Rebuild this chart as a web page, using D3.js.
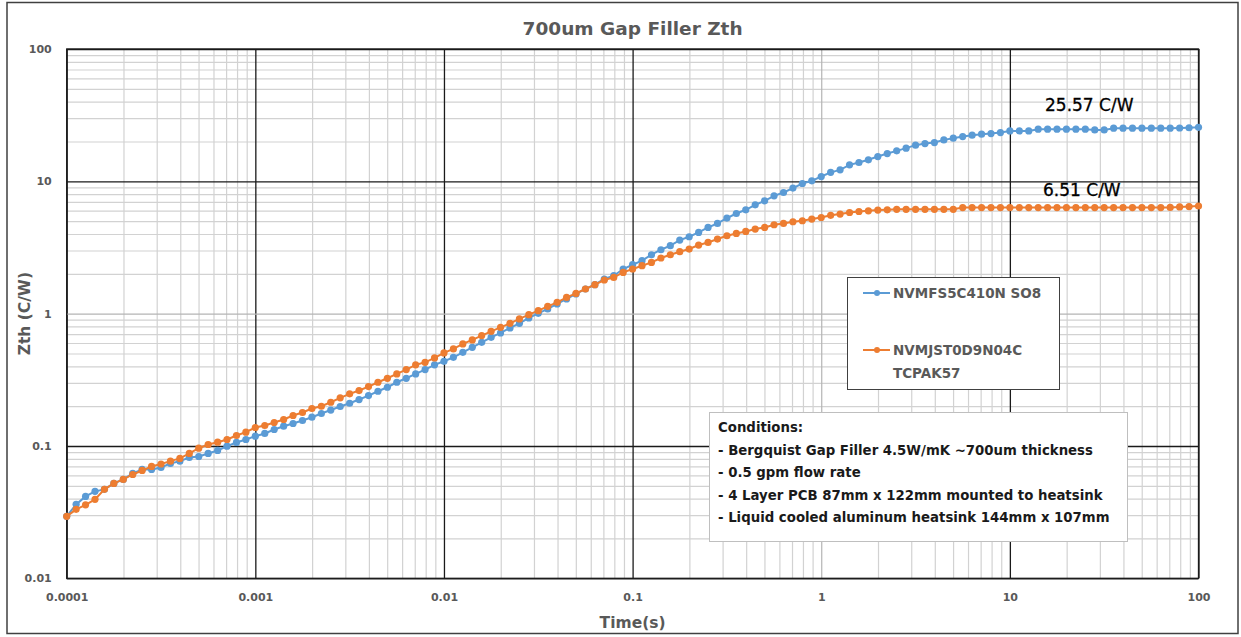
<!DOCTYPE html>
<html>
<head>
<meta charset="utf-8">
<script src="https://cdnjs.cloudflare.com/ajax/libs/d3/7.8.5/d3.min.js"></script>
<style>
  body { margin:0; background:#fff; }
  svg { display:block; }
  text { font-family:"DejaVu Sans", sans-serif; }
</style>
</head>
<body>
<svg></svg>
<script>
// sample times (s), 20 per decade
var time = [
  1e-4,1.122e-4,1.259e-4,1.413e-4,1.585e-4,1.778e-4,1.995e-4,2.239e-4,2.512e-4,2.818e-4,
  3.162e-4,3.548e-4,3.981e-4,4.467e-4,5.012e-4,5.623e-4,6.31e-4,7.079e-4,7.943e-4,8.913e-4,
  1e-3,1.122e-3,1.259e-3,1.413e-3,1.585e-3,1.778e-3,1.995e-3,2.239e-3,2.512e-3,2.818e-3,
  3.162e-3,3.548e-3,3.981e-3,4.467e-3,5.012e-3,5.623e-3,6.31e-3,7.079e-3,7.943e-3,8.913e-3,
  1e-2,1.122e-2,1.259e-2,1.413e-2,1.585e-2,1.778e-2,1.995e-2,2.239e-2,2.512e-2,2.818e-2,
  3.162e-2,3.548e-2,3.981e-2,4.467e-2,5.012e-2,5.623e-2,6.31e-2,7.079e-2,7.943e-2,8.913e-2,
  0.1,0.1122,0.1259,0.1413,0.1585,0.1778,0.1995,0.2239,0.2512,0.2818,
  0.3162,0.3548,0.3981,0.4467,0.5012,0.5623,0.631,0.7079,0.7943,0.8913,
  1,1.122,1.259,1.413,1.585,1.778,1.995,2.239,2.512,2.818,
  3.162,3.548,3.981,4.467,5.012,5.623,6.31,7.079,7.943,8.913,
  10,11.22,12.59,14.13,15.85,17.78,19.95,22.39,25.12,28.18,
  31.62,35.48,39.81,44.67,50.12,56.23,63.1,70.79,79.43,89.13,
  100
];

// NVMFS5C410N SO8
var zthSO8 = [
  0.0294,0.0362,0.0416,0.0454,0.0470,0.0521,0.0559,0.0620,0.0665,0.0665,
  0.0688,0.0738,0.0768,0.0819,0.0833,0.0878,0.0925,0.0997,0.1063,0.1119,
  0.1186,0.1243,0.1332,0.1411,0.1478,0.1558,0.1650,0.1759,0.1869,0.1987,
  0.2104,0.2244,0.2404,0.2592,0.2779,0.3031,0.3248,0.3506,0.3779,0.4101,
  0.4365,0.4679,0.5105,0.5568,0.6072,0.6623,0.7151,0.7800,0.8449,0.9280,
  1.005,1.085,1.184,1.291,1.408,1.536,1.655,1.828,1.935,2.175,
  2.343,2.512,2.788,3.041,3.262,3.599,3.812,4.108,4.481,4.803,
  5.277,5.715,6.095,6.646,7.124,7.774,8.235,8.887,9.626,10.09,
  10.87,11.69,12.21,13.32,13.87,14.54,15.39,16.21,16.99,17.81,
  18.76,19.29,19.63,20.57,21.18,21.78,22.32,22.71,22.95,23.35,
  24.05,24.05,24.05,24.77,24.77,24.77,24.77,24.77,24.77,24.47,
  24.47,25.2,25.2,25.2,25.2,25.2,25.2,25.2,25.3,25.4,
  25.57
];

// NVMJST0D9N04C TCPAK57
var zthTCPAK = [
  0.0294,0.0332,0.0359,0.0395,0.0470,0.0521,0.0559,0.0609,0.0653,0.0700,
  0.0731,0.0768,0.0805,0.0878,0.0962,0.1026,0.1068,0.1119,0.1200,0.1271,
  0.1379,0.1428,0.1505,0.1585,0.1699,0.1790,0.1919,0.1997,0.2141,0.2311,
  0.2477,0.2624,0.2812,0.3031,0.3248,0.3506,0.3779,0.4101,0.4290,0.4630,
  0.5052,0.5416,0.5906,0.6330,0.6823,0.7355,0.7883,0.8449,0.9121,0.9828,
  1.053,1.135,1.217,1.327,1.423,1.536,1.655,1.796,1.879,2.050,
  2.175,2.303,2.439,2.633,2.788,2.938,3.078,3.300,3.452,3.663,
  3.879,4.036,4.179,4.357,4.481,4.696,4.803,4.947,5.034,5.184,
  5.331,5.538,5.655,5.814,5.916,5.988,6.061,6.095,6.148,6.148,
  6.148,6.148,6.148,6.148,6.148,6.33,6.33,6.33,6.33,6.33,
  6.33,6.33,6.33,6.33,6.33,6.33,6.33,6.33,6.33,6.33,
  6.33,6.33,6.33,6.33,6.33,6.33,6.33,6.35,6.4,6.45,
  6.51
];

var xTicks = [0.0001,0.001,0.01,0.1,1,10,100];
var xTickLabels = ["0.0001","0.001","0.01","0.1","1","10","100"];
var yTicks = [0.01,0.1,1,10,100];
var yTickLabels = ["0.01","0.1","1","10","100"];

var seriesNames = ["NVMFS5C410N SO8", "NVMJST0D9N04C TCPAK57"];
var conditions = [
  "Conditions:",
  "- Bergquist Gap Filler 4.5W/mK ~700um thickness",
  "- 0.5 gpm flow rate",
  "- 4 Layer PCB 87mm x 122mm mounted to heatsink",
  "- Liquid cooled aluminum heatsink 144mm x 107mm"
];
var finalLabels = ["25.57 C/W", "6.51 C/W"];

var screen = { width:1241, height:637 };
var plot = { left:66.7, right:1198.5, top:49, bottom:578.3 };
var blue = "#5b9bd5", orange = "#ed7d31", grey = "#595959";

var svg = d3.select("svg")
            .attr("width", screen.width)
            .attr("height", screen.height);

// outer frame
svg.append("rect")
   .attr("x",7).attr("y",2.5)
   .attr("width",1231).attr("height",631)
   .attr("fill","#fff")
   .attr("stroke","#404040")
   .attr("stroke-width",1.5);

var x = d3.scaleLog()
          .domain([1e-4,100])
          .range([plot.left, plot.right]);
var y = d3.scaleLog()
          .domain([0.01,100])
          .range([plot.bottom, plot.top]);

var isDecade = function(v){
  var l = Math.log10(v);
  return Math.abs(l - Math.round(l)) < 1e-9;
};

var ph = plot.bottom - plot.top;
var pw = plot.right - plot.left;

// minor grid
var minorX = x.ticks().filter(function(v){ return !isDecade(v); });
var minorY = y.ticks().filter(function(v){ return !isDecade(v); });

svg.append("g")
   .attr("class","grid")
   .attr("transform","translate(0," + plot.bottom + ")")
   .call(d3.axisBottom(x).tickValues(minorX).tickSize(-ph).tickFormat(""))
   .call(function(g){ g.select(".domain").remove(); })
   .selectAll("line").attr("stroke","#d2d2d2").attr("stroke-width",1.2);

svg.append("g")
   .attr("class","grid")
   .attr("transform","translate(" + plot.left + ",0)")
   .call(d3.axisLeft(y).tickValues(minorY).tickSize(-pw).tickFormat(""))
   .call(function(g){ g.select(".domain").remove(); })
   .selectAll("line").attr("stroke","#d2d2d2").attr("stroke-width",1.2);

// major grid (the one at 1 renders lighter in the original)
svg.append("g")
   .attr("transform","translate(0," + plot.bottom + ")")
   .call(d3.axisBottom(x).tickValues(xTicks).tickSize(-ph).tickFormat(""))
   .call(function(g){ g.select(".domain").remove(); })
   .selectAll("line")
   .attr("stroke", function(d){ return d == 1 ? "#b4b4b4" : "#1a1a1a"; })
   .attr("stroke-width", function(d){ return d == 1 ? 1.2 : 1.3; });

svg.append("g")
   .attr("transform","translate(" + plot.left + ",0)")
   .call(d3.axisLeft(y).tickValues(yTicks).tickSize(-pw).tickFormat(""))
   .call(function(g){ g.select(".domain").remove(); })
   .selectAll("line")
   .attr("stroke", function(d){ return d == 1 ? "#b4b4b4" : "#1a1a1a"; })
   .attr("stroke-width", function(d){ return d == 1 ? 1.2 : 1.3; });

// plot border
svg.append("rect")
   .attr("x",plot.left).attr("y",plot.top)
   .attr("width",pw).attr("height",ph)
   .attr("fill","none")
   .attr("stroke","#1a1a1a")
   .attr("stroke-width",1.3);

// tick labels
var xAxis = svg.append("g")
   .attr("transform","translate(0," + plot.bottom + ")")
   .call(d3.axisBottom(x).tickValues(xTicks).tickSize(0).tickPadding(15)
           .tickFormat(function(d,i){ return xTickLabels[i]; }));
xAxis.select(".domain").remove();
xAxis.selectAll("text")
     .attr("font-family","DejaVu Sans")
     .attr("font-weight","bold")
     .attr("font-size","11px")
     .attr("fill",grey);

var yAxis = svg.append("g")
   .attr("transform","translate(" + plot.left + ",0)")
   .call(d3.axisLeft(y).tickValues(yTicks).tickSize(0).tickPadding(15)
           .tickFormat(function(d,i){ return yTickLabels[i]; }));
yAxis.select(".domain").remove();
yAxis.selectAll("text")
     .attr("font-family","DejaVu Sans")
     .attr("font-weight","bold")
     .attr("font-size","11px")
     .attr("fill",grey);

// titles
svg.append("text")
   .attr("x",(plot.left+plot.right)/2).attr("y",35)
   .attr("text-anchor","middle")
   .attr("font-weight","bold")
   .attr("font-size","18.5px")
   .attr("fill",grey)
   .text("700um Gap Filler Zth");

svg.append("text")
   .attr("x",(plot.left+plot.right)/2).attr("y",628)
   .attr("text-anchor","middle")
   .attr("font-weight","bold")
   .attr("font-size","15.5px")
   .attr("fill",grey)
   .text("Time(s)");

svg.append("text")
   .attr("transform","translate(30," + (plot.top+plot.bottom)/2 + ") rotate(-90)")
   .attr("text-anchor","middle")
   .attr("font-weight","bold")
   .attr("font-size","15.5px")
   .attr("fill",grey)
   .text("Zth (C/W)");

// series
var line = d3.line()
             .x(function(d){ return x(d[0]); })
             .y(function(d){ return y(d[1]); });

var series = [
  { name:seriesNames[0], color:blue,   values:d3.zip(time, zthSO8) },
  { name:seriesNames[1], color:orange, values:d3.zip(time, zthTCPAK) }
];

series.forEach(function(s){
  var g = svg.append("g");
  g.append("path")
   .attr("d", line(s.values))
   .attr("fill","none")
   .attr("stroke",s.color)
   .attr("stroke-width",2);
  g.selectAll("circle")
   .data(s.values)
   .enter()
   .append("circle")
   .attr("cx",function(d){ return x(d[0]); })
   .attr("cy",function(d){ return y(d[1]); })
   .attr("r",3.6)
   .attr("fill",s.color);
});

// end value labels
svg.append("text")
   .attr("x",1045).attr("y",111)
   .attr("font-size","17px")
   .attr("fill","#000")
   .attr("stroke","#000")
   .attr("stroke-width",0.3)
   .text(finalLabels[0]);
svg.append("text")
   .attr("x",1043).attr("y",196)
   .attr("font-size","17px")
   .attr("fill","#000")
   .attr("stroke","#000")
   .attr("stroke-width",0.3)
   .text(finalLabels[1]);

// legend
var legend = svg.append("g");
legend.append("rect")
      .attr("x",847.5).attr("y",277.5)
      .attr("width",212).attr("height",112)
      .attr("fill","#fff")
      .attr("stroke","#404040")
      .attr("stroke-width",1);

var legendRows = [
  { color:blue,   y:293, lines:[seriesNames[0]] },
  { color:orange, y:350, lines:["NVMJST0D9N04C","TCPAK57"] }
];
legendRows.forEach(function(r){
  legend.append("line")
        .attr("x1",863).attr("x2",890)
        .attr("y1",r.y).attr("y2",r.y)
        .attr("stroke",r.color).attr("stroke-width",2);
  legend.append("circle")
        .attr("cx",877).attr("cy",r.y).attr("r",3)
        .attr("fill",r.color);
  r.lines.forEach(function(t,i){
    legend.append("text")
          .attr("x",893).attr("y",r.y + 5 + i*23)
          .attr("font-weight","bold")
          .attr("font-size","13.5px")
          .attr("fill",grey)
          .text(t);
  });
});

// conditions box
var cond = svg.append("g");
cond.append("rect")
    .attr("x",709.5).attr("y",412.5)
    .attr("width",418).attr("height",129)
    .attr("fill","#fff")
    .attr("stroke","#bfbfbf")
    .attr("stroke-width",1);
cond.selectAll("text.cond")
    .data(conditions)
    .enter()
    .append("text")
    .attr("class","cond")
    .attr("x",718)
    .attr("y",function(d,i){ return 432 + i*22.5; })
    .attr("font-weight","bold")
    .attr("font-size","13.3px")
    .attr("fill","#1a1a1a")
    .text(function(d){ return d; });
</script>
</body>
</html>
